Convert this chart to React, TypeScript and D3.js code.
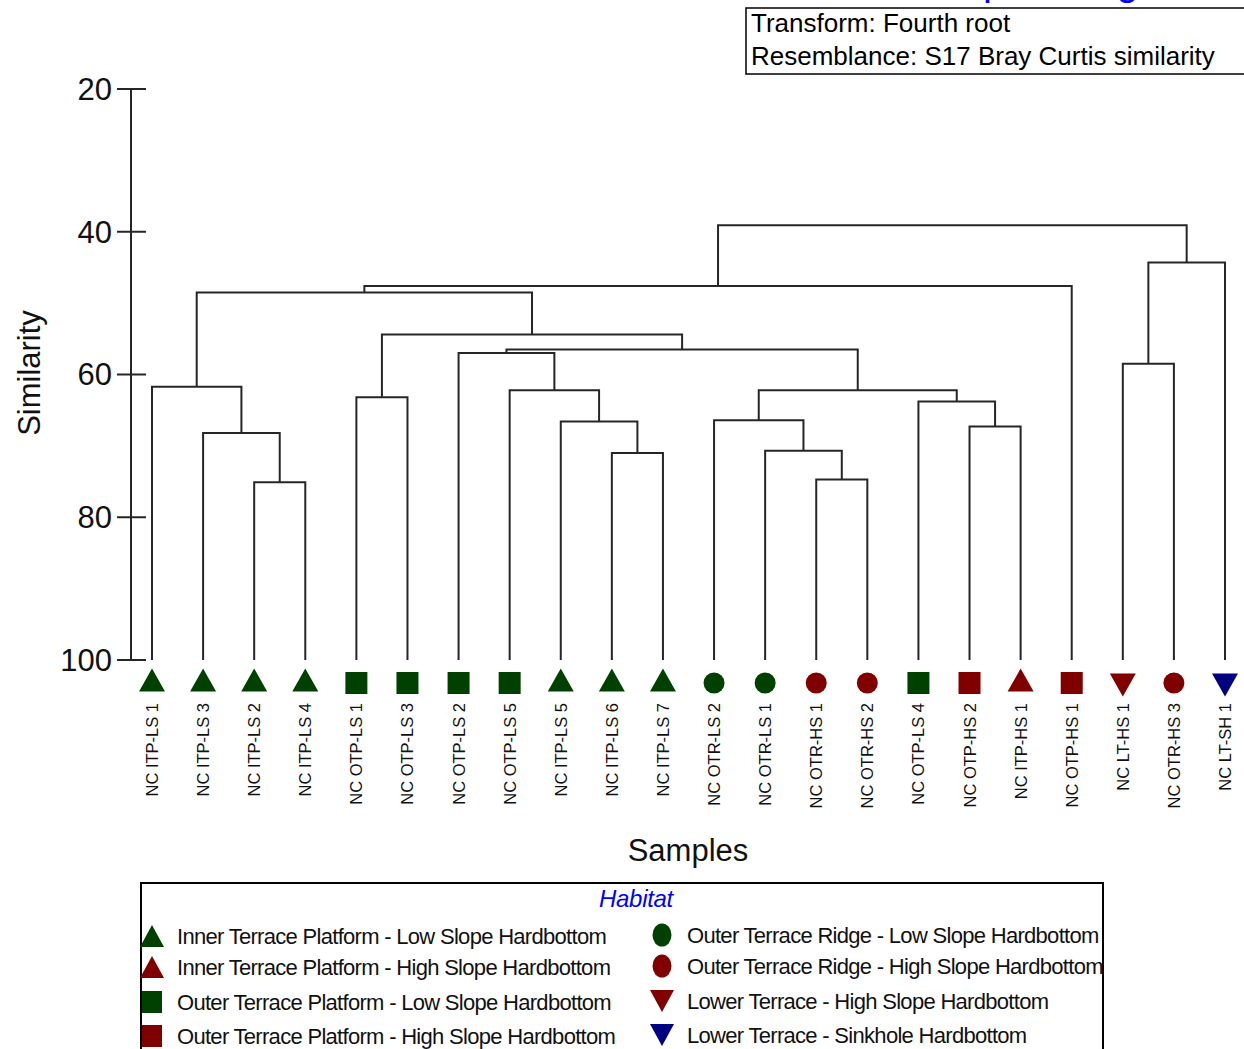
import React, { useMemo } from 'react';
import * as d3 from 'd3';

// sample order along the bottom of the dendrogram
const leafNames = [
  'NC ITP-LS 1', 'NC ITP-LS 3', 'NC ITP-LS 2', 'NC ITP-LS 4', 'NC OTP-LS 1', 'NC OTP-LS 3',
  'NC OTP-LS 2', 'NC OTP-LS 5', 'NC ITP-LS 5', 'NC ITP-LS 6', 'NC ITP-LS 7', 'NC OTR-LS 2',
  'NC OTR-LS 1', 'NC OTR-HS 1', 'NC OTR-HS 2', 'NC OTP-LS 4', 'NC OTP-HS 2', 'NC ITP-HS 1',
  'NC OTP-HS 1', 'NC LT-HS 1', 'NC OTR-HS 3', 'NC LT-SH 1',
];

// merges: [left, right, similarity]; a number points to an earlier merge
const merges: [string | number, string | number, number][] = [
  ['NC ITP-LS 2', 'NC ITP-LS 4', 75.1],
  ['NC ITP-LS 3', 0, 68.2],
  ['NC ITP-LS 1', 1, 61.7],
  ['NC OTP-LS 1', 'NC OTP-LS 3', 63.2],
  ['NC ITP-LS 6', 'NC ITP-LS 7', 71.0],
  ['NC ITP-LS 5', 4, 66.6],
  ['NC OTP-LS 5', 5, 62.2],
  ['NC OTP-LS 2', 6, 57.0],
  ['NC OTR-HS 1', 'NC OTR-HS 2', 74.7],
  ['NC OTR-LS 1', 8, 70.7],
  ['NC OTR-LS 2', 9, 66.4],
  ['NC OTP-HS 2', 'NC ITP-HS 1', 67.3],
  ['NC OTP-LS 4', 11, 63.8],
  [10, 12, 62.2],
  [7, 13, 56.5],
  [3, 14, 54.4],
  [2, 15, 48.5],
  [16, 'NC OTP-HS 1', 47.6],
  ['NC LT-HS 1', 'NC OTR-HS 3', 58.5],
  [18, 'NC LT-SH 1', 44.3],
  [17, 19, 39.1],
];

const yTicks = [20, 40, 60, 80, 100];

const habitatCodes = ['ITP-LS', 'ITP-HS', 'OTP-LS', 'OTP-HS', 'OTR-LS', 'OTR-HS', 'LT-HS', 'LT-SH'];
const habitatNames = [
  'Inner Terrace Platform - Low Slope Hardbottom',
  'Inner Terrace Platform - High Slope Hardbottom',
  'Outer Terrace Platform - Low Slope Hardbottom',
  'Outer Terrace Platform - High Slope Hardbottom',
  'Outer Terrace Ridge - Low Slope Hardbottom',
  'Outer Terrace Ridge - High Slope Hardbottom',
  'Lower Terrace - High Slope Hardbottom',
  'Lower Terrace - Sinkhole Hardbottom',
];
const habitatShapes = ['up', 'up', 'square', 'square', 'circle', 'circle', 'down', 'down'];
const habitatColors = ['#004000', '#800000', '#004000', '#800000', '#004000', '#800000', '#800000', '#000080'];

const FONT = '"Liberation Sans", Arial, sans-serif';
const LINE = '#262626';

function shapePath(shape: string, cx: number, cy: number, w: number, h: number) {
  if (shape === 'up') return `M${cx - w / 2},${cy + h / 2}L${cx},${cy - h / 2}L${cx + w / 2},${cy + h / 2}Z`;
  if (shape === 'down') return `M${cx - w / 2},${cy - h / 2}L${cx},${cy + h / 2}L${cx + w / 2},${cy - h / 2}Z`;
  if (shape === 'square') return `M${cx - w / 2},${cy - h / 2}h${w}v${h}h${-w}Z`;
  const rx = w / 2, ry = h / 2;
  return `M${cx - rx},${cy}a${rx},${ry} 0 1,0 ${w},0a${rx},${ry} 0 1,0 ${-w},0Z`;
}

export default function App() {
  const xScale = useMemo(() => d3.scalePoint<string>().domain(leafNames).range([152, 1225]), []);
  const yScale = useMemo(() => d3.scaleLinear().domain([20, 100]).range([89, 660]), []);

  // build the tree from the merge table and lay it out
  const links = useMemo(() => {
    const build = (ref: string | number): any => {
      if (typeof ref === 'string') return { name: ref, sim: 100 };
      const [a, b, s] = merges[ref];
      return { sim: s, children: [build(a), build(b)] };
    };
    const root = d3.hierarchy(build(merges.length - 1));
    root.eachAfter((n: any) => {
      n.px = n.children ? d3.mean(n.children, (c: any) => c.px) : xScale(n.data.name);
      n.py = yScale(n.data.sim);
    });
    const out: string[] = [];
    root.each((n: any) => {
      if (!n.children) return;
      const [l, r] = n.children;
      out.push(`M${l.px},${l.py}V${n.py}H${r.px}V${r.py}`);
    });
    return out;
  }, [xScale, yScale]);

  const legendRowsY = [936, 967, 1002, 1036];

  return (
    <svg width={1244} height={1049} style={{ position: 'absolute', left: 0, top: 0, background: '#fff' }}
      fontFamily={FONT}>
      {/* title, mostly above the top edge as in the original */}
      <text x={894} y={-5} fontSize={40} fill="#0000ff">Group average</text>

      {/* info box */}
      <rect x={746} y={8} width={540} height={66} fill="none" stroke="#000" strokeWidth={1.5} />
      <text x={751} y={32} fontSize={26} fill="#000">Transform: Fourth root</text>
      <text x={751} y={65} fontSize={26} fill="#000">Resemblance: S17 Bray Curtis similarity</text>

      {/* y axis */}
      <line x1={131} x2={131} y1={yScale(20)} y2={yScale(100)} stroke={LINE} strokeWidth={2} />
      {yTicks.map((t) => (
        <g key={t}>
          <line x1={117} x2={146} y1={yScale(t)} y2={yScale(t)} stroke={LINE} strokeWidth={2} />
          <text x={112} y={yScale(t)} dy="0.35em" textAnchor="end" fontSize={31} fill="#111">{t}</text>
        </g>
      ))}
      <text transform="translate(40,373) rotate(-90)" textAnchor="middle" fontSize={31} fill="#111">Similarity</text>

      {/* dendrogram */}
      <g fill="none" stroke={LINE} strokeWidth={2}>
        {links.map((d, i) => <path key={i} d={d} />)}
      </g>

      {/* leaves */}
      {leafNames.map((name) => {
        const x = xScale(name)!;
        const h = habitatCodes.indexOf(name.replace(/^NC /, '').replace(/ \d+$/, ''));
        const shape = habitatShapes[h];
        const w = shape === 'up' || shape === 'down' ? 26 : shape === 'square' ? 22 : 21;
        const ht = shape === 'square' ? 22 : shape === 'circle' ? 21 : 23;
        const cy = shape === 'up' ? 680 : shape === 'down' ? 685 : 683;
        return (
          <g key={name}>
            <path d={shapePath(shape, x, cy, w, ht)} fill={habitatColors[h]} />
            <text transform={`translate(${x + 6},703) rotate(-90)`} textAnchor="end" fontSize={16.5} fill="#111">{name}</text>
          </g>
        );
      })}
      <text x={688} y={861} textAnchor="middle" fontSize={31} fill="#111">Samples</text>

      {/* legend */}
      <rect x={141} y={883} width={962} height={200} fill="none" stroke="#000" strokeWidth={2} />
      <text x={636} y={907} textAnchor="middle" fontSize={24} fontStyle="italic" letterSpacing={-0.3} fill="#0000ff">Habitat</text>
      {habitatNames.map((nm, i) => {
        const col = i < 4 ? 0 : 1;
        const row = i % 4;
        const cx = col === 0 ? 152 : 662;
        const cy = legendRowsY[row] - (col === 1 ? 1 : 0);
        const shape = habitatShapes[i];
        const w = shape === 'circle' ? 19 : shape === 'square' ? 20 : 24;
        const ht = shape === 'circle' ? 23 : 22;
        return (
          <g key={nm}>
            <path d={shapePath(shape, cx, cy, w, ht)} fill={habitatColors[i]} />
            <text x={col === 0 ? 177 : 687} y={cy + 8} fontSize={22} letterSpacing={-0.7} fill="#111">{nm}</text>
          </g>
        );
      })}
    </svg>
  );
}
